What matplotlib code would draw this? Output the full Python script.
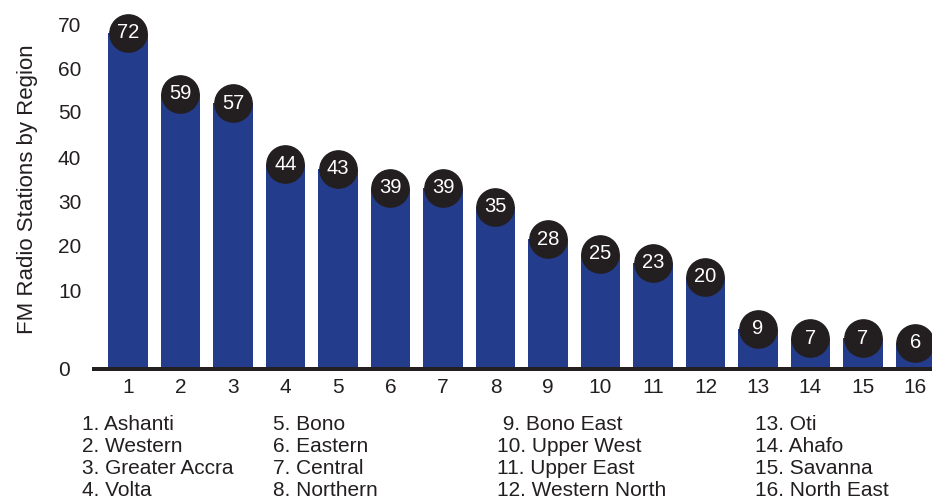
import matplotlib
matplotlib.use("Agg")
import matplotlib.pyplot as plt
from matplotlib.transforms import blended_transform_factory

# stations per region, in chart order
positions = list(range(1, 17))
stations = [72, 59, 57, 44, 43, 39, 39, 35, 28, 25, 23, 20, 9, 7, 7, 6]
regions = ["Ashanti", "Western", "Greater Accra", "Volta",
           "Bono", "Eastern", "Central", "Northern",
           "Bono East", "Upper West", "Upper East", "Western North",
           "Oti", "Ahafo", "Savanna", "North East"]

# the printed y labels do not sit on the bar scale in the original
ytick_labels = ["0", "10", "20", "30", "40", "50", "60", "70"]
ytick_spots = [0.2, 16.8, 26.2, 35.7, 45.1, 54.7, 64.0, 73.2]

bar_color = "#243c8c"
dark = "#231f20"

plt.rcParams['font.family'] = ['Liberation Sans', 'DejaVu Sans']

fig = plt.figure(figsize=(9.32, 4.99), dpi=100)
ax = fig.add_axes([92 / 932, (499 - 371) / 499, 840 / 932, 371 / 499])

ax.bar(positions, stations, width=0.76, color=bar_color, zorder=2)
ax.scatter(positions, stations, s=720, color=dark, zorder=3, clip_on=False)
for x, v in zip(positions, stations):
    ax.text(x, v, str(v), color="white", fontsize=14.5, ha="center", va="center",
            zorder=4)

ax.axhline(0.5, color=dark, lw=3.6, zorder=5)

ax.set_xlim(1 - 36 / 52.5, 1 + 804 / 52.5)
ax.set_ylim(0, 371 / 4.7)
ax.set_xticks(positions)
ax.set_xticklabels([str(p) for p in positions], fontsize=15, color=dark)
ax.tick_params(axis="x", length=0, pad=5)
ax.set_yticks([])
for s in ax.spines.values():
    s.set_visible(False)

trans = blended_transform_factory(ax.transAxes, ax.transData)
for lab, y in zip(ytick_labels, ytick_spots):
    ax.text(-34 / 840, y, lab, transform=trans, ha="left", va="center",
            fontsize=15, color=dark)

fig.text(28 / 932, 1 - 189 / 499, "FM Radio Stations by Region", rotation=90,
         ha="center", va="center", fontsize=16, color=dark)

# region key under the axis, four columns of four
col_x = [82, 273, 497, 755]
row_y = [425, 447, 469, 491]
for i, name in enumerate(regions):
    c, r = divmod(i, 4)
    lab = f"{i + 1}. {name}"
    if i + 1 == 9:
        lab = " " + lab
    fig.text(col_x[c] / 932, 1 - row_y[r] / 499, lab, ha="left", va="center",
             fontsize=15, color=dark)

fig.savefig("out.png", dpi=100)
